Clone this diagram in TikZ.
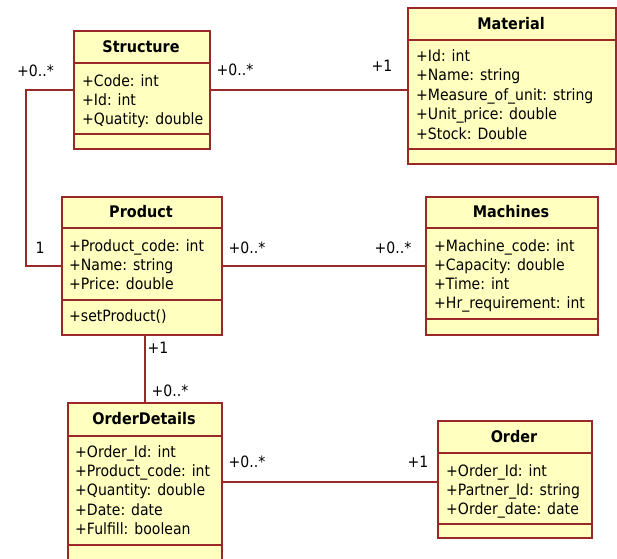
\documentclass[tikz,border=0pt]{standalone}
\usepackage{fontspec}
\setmainfont{DejaVu Sans}[FakeStretch=0.9]
\begin{document}
\definecolor{umlborder}{RGB}{155,40,40}
\definecolor{umlfill}{RGB}{255,255,192}
\begin{tikzpicture}[x=1pt,y=-1pt,
  font=\fontsize{15.6}{19}\selectfont,
  cls/.style={draw=umlborder, fill=umlfill, line width=1.8pt, inner sep=0pt, anchor=north west},
  divider/.style={draw=umlborder, line width=1.6pt},
  assoc/.style={draw=umlborder, line width=1.8pt},
  title/.style={font=\fontsize{16}{19}\selectfont\bfseries, inner sep=0pt, anchor=center},
  attr/.style={inner sep=0pt, anchor=base west},
  mult/.style={inner sep=0pt, anchor=base}]
\useasboundingbox (0,0) rectangle (617,558);
\clip (0,0) rectangle (617,558);
\fill[white] (0,0) rectangle (617,558);

% ---- Structure
\node[cls, minimum width=136, minimum height=118] (structure) at (73,30) {};
\draw[divider] (structure.west |- 0,63) -- (structure.east |- 0,63);
\draw[divider] (structure.west |- 0,134) -- (structure.east |- 0,134);
\node[title] (structure-t) at (141,46.5) {Structure};
\node[attr] (structure-a1) at (82,86) {+Code: int};
\node[attr] (structure-a2) at (82,105) {+Id: int};
\node[attr] (structure-a3) at (82,124) {+Quatity: double};

% ---- Material
\node[cls, minimum width=208, minimum height=156] (material) at (407,7) {};
\draw[divider] (material.west |- 0,40) -- (material.east |- 0,40);
\draw[divider] (material.west |- 0,149) -- (material.east |- 0,149);
\node[title] (material-t) at (511,23.5) {Material};
\node[attr] (material-a1) at (416,61) {+Id: int};
\node[attr] (material-a2) at (416,80.5) {+Name: string};
\node[attr] (material-a3) at (416,100) {+Measure\_of\_unit: string};
\node[attr] (material-a4) at (416,119.5) {+Unit\_price: double};
\node[attr] (material-a5) at (416,139) {+Stock: Double};

% ---- Product
\node[cls, minimum width=160, minimum height=138] (product) at (61,196) {};
\draw[divider] (product.west |- 0,228) -- (product.east |- 0,228);
\draw[divider] (product.west |- 0,300) -- (product.east |- 0,300);
\node[title] (product-t) at (141,212) {Product};
\node[attr] (product-a1) at (69,251) {+Product\_code: int};
\node[attr] (product-a2) at (69,270) {+Name: string};
\node[attr] (product-a3) at (69,289) {+Price: double};
\node[attr] (product-m1) at (69,321) {+setProduct()};

% ---- Machines
\node[cls, minimum width=172, minimum height=138] (machines) at (425,196) {};
\draw[divider] (machines.west |- 0,228) -- (machines.east |- 0,228);
\draw[divider] (machines.west |- 0,319) -- (machines.east |- 0,319);
\node[title] (machines-t) at (511,212) {Machines};
\node[attr] (machines-a1) at (434,251) {+Machine\_code: int};
\node[attr] (machines-a2) at (434,270) {+Capacity: double};
\node[attr] (machines-a3) at (434,289) {+Time: int};
\node[attr] (machines-a4) at (434,308) {+Hr\_requirement: int};

% ---- OrderDetails
\node[cls, minimum width=154, minimum height=158] (orderdetails) at (67,402) {};
\draw[divider] (orderdetails.west |- 0,436) -- (orderdetails.east |- 0,436);
\draw[divider] (orderdetails.west |- 0,545) -- (orderdetails.east |- 0,545);
\node[title] (orderdetails-t) at (144,419) {OrderDetails};
\node[attr] (orderdetails-a1) at (75,457) {+Order\_Id: int};
\node[attr] (orderdetails-a2) at (75,476) {+Product\_code: int};
\node[attr] (orderdetails-a3) at (75,495) {+Quantity: double};
\node[attr] (orderdetails-a4) at (75,515) {+Date: date};
\node[attr] (orderdetails-a5) at (75,534) {+Fulfill: boolean};

% ---- Order
\node[cls, minimum width=154, minimum height=117] (order) at (437,420) {};
\draw[divider] (order.west |- 0,453) -- (order.east |- 0,453);
\draw[divider] (order.west |- 0,524) -- (order.east |- 0,524);
\node[title] (order-t) at (514,436.5) {Order};
\node[attr] (order-a1) at (446,476) {+Order\_Id: int};
\node[attr] (order-a2) at (446,495) {+Partner\_Id: string};
\node[attr] (order-a3) at (446,514) {+Order\_date: date};

% ---- Associations
\coordinate (structure-bend) at (26,90);
\draw[assoc] (structure.west |- structure-bend) -- (structure-bend) |- (product.west);
\draw[assoc] (structure.east) -- (structure.east -| material.west);
\draw[assoc] (product.east) -- (machines.west);
\draw[assoc] (orderdetails.north) -- (orderdetails.north |- product.south);
\draw[assoc] (orderdetails.east) -- (orderdetails.east -| order.west);

% ---- Multiplicities
\node[mult] (m-sp-s) at (35.5,76) {+0..*};
\node[mult] (m-sm-s) at (235,75) {+0..*};
\node[mult] (m-sm-m) at (382,71) {+1};
\node[mult] (m-sp-p) at (40,253) {1};
\node[mult] (m-pm-p) at (247,253) {+0..*};
\node[mult] (m-pm-m) at (393,253) {+0..*};
\node[mult] (m-po-p) at (158,353) {+1};
\node[mult] (m-po-o) at (170,396) {+0..*};
\node[mult] (m-oo-d) at (247,467) {+0..*};
\node[mult] (m-oo-o) at (418,467) {+1};
\end{tikzpicture}
\end{document}
